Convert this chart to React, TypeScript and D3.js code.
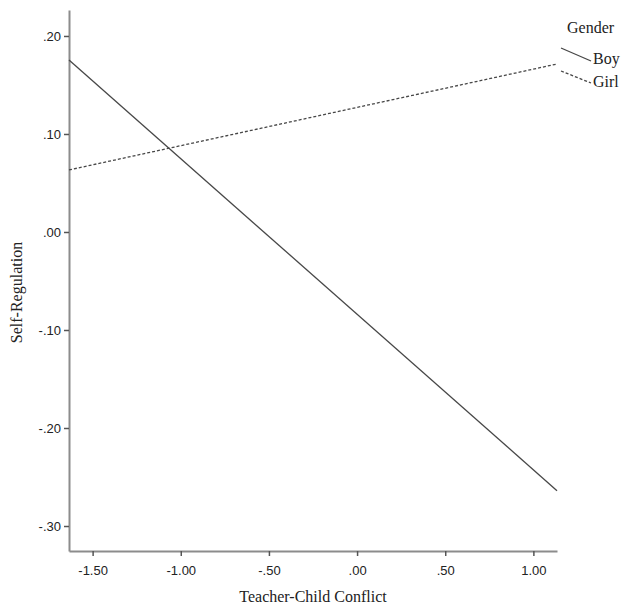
import React, { useEffect, useRef } from "react";
import * as d3 from "d3";

// data
const conflictRange = [-1.634, 1.134];
const boyValues = [0.1755, -0.264];
const girlValues = [0.0633, 0.1714];
const xTicks = [-1.5, -1.0, -0.5, 0.0, 0.5, 1.0];
const yTicks = [0.2, 0.1, 0.0, -0.1, -0.2, -0.3];
const legendLabels = ["Boy", "Girl"];

const fmt = (v: number) => {
  const s = d3.format(".2f")(v).replace("\u2212", "-");
  return s.replace(/^(-?)0\./, "$1.");
};

export default function App() {
  const ref = useRef<SVGSVGElement | null>(null);

  useEffect(() => {
    const width = 627;
    const height = 608;
    const margin = { top: 10, right: 70, bottom: 57, left: 69 };

    const svg = d3.select(ref.current);
    svg.selectAll("*").remove();

    const x = d3
      .scaleLinear()
      .domain(conflictRange)
      .range([margin.left, width - margin.right]);
    const y = d3
      .scaleLinear()
      .domain([-0.3255, 0.2265])
      .range([height - margin.bottom, margin.top]);

    const axisColor = "#8c8c8c";
    const lineColor = "#474747";

    const yAxis = svg
      .append("g")
      .attr("transform", `translate(${margin.left},0)`)
      .call(d3.axisLeft(y).tickValues(yTicks).tickFormat(fmt as any).tickSize(5).tickSizeOuter(0));
    const xAxis = svg
      .append("g")
      .attr("transform", `translate(0,${height - margin.bottom})`)
      .call(d3.axisBottom(x).tickValues(xTicks).tickFormat(fmt as any).tickSize(5).tickSizeOuter(0));

    [xAxis, yAxis].forEach((g) => {
      g.select(".domain").attr("stroke", axisColor).attr("stroke-width", 2);
      g.selectAll(".tick line").attr("stroke", "#555").attr("stroke-width", 1.5);
      g.selectAll(".tick text")
        .attr("fill", "#222")
        .attr("font-family", "Liberation Sans, Arial, sans-serif")
        .attr("font-size", 13);
    });
    xAxis.selectAll(".tick text").attr("dy", "1.2em");

    const line = d3
      .line<number>()
      .x((d, i) => x(conflictRange[i]))
      .y((d) => y(d));

    svg
      .append("path")
      .datum(boyValues)
      .attr("fill", "none")
      .attr("stroke", lineColor)
      .attr("stroke-width", 1.3)
      .attr("d", line);
    svg
      .append("path")
      .datum(girlValues)
      .attr("fill", "none")
      .attr("stroke", lineColor)
      .attr("stroke-width", 1.3)
      .attr("stroke-dasharray", "3,2")
      .attr("d", line);

    const serif = "Liberation Serif, Times New Roman, serif";

    svg
      .append("text")
      .attr("x", (margin.left + width - margin.right) / 2)
      .attr("y", 602)
      .attr("text-anchor", "middle")
      .attr("font-family", serif)
      .attr("font-size", 16)
      .attr("fill", "#222")
      .text("Teacher-Child Conflict");

    svg
      .append("text")
      .attr("transform", `translate(22,${(margin.top + height - margin.bottom) / 2 + 12}) rotate(-90)`)
      .attr("text-anchor", "middle")
      .attr("font-family", serif)
      .attr("font-size", 16)
      .attr("fill", "#222")
      .text("Self-Regulation");

    // legend
    const legend = svg.append("g");
    legend
      .append("text")
      .attr("x", 567)
      .attr("y", 33)
      .attr("font-family", serif)
      .attr("font-size", 16)
      .attr("fill", "#222")
      .text("Gender");
    legendLabels.forEach((lab, i) => {
      const y0 = 48 + i * 23;
      legend
        .append("line")
        .attr("x1", 561)
        .attr("y1", y0)
        .attr("x2", 591)
        .attr("y2", y0 + 13 - i)
        .attr("stroke", lineColor)
        .attr("stroke-width", 1.3)
        .attr("stroke-dasharray", i === 1 ? "3,2" : null);
      legend
        .append("text")
        .attr("x", 593)
        .attr("y", y0 + 16)
        .attr("font-family", serif)
        .attr("font-size", 16)
        .attr("fill", "#222")
        .text(lab);
    });
  }, []);

  return (
    <svg
      ref={ref}
      width={627}
      height={608}
      style={{ position: "absolute", left: 0, top: 0, background: "#fff" }}
    />
  );
}
